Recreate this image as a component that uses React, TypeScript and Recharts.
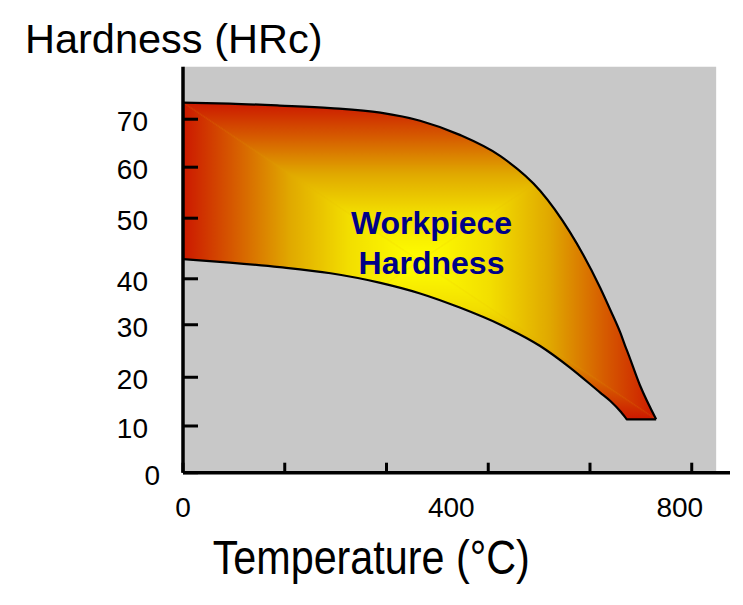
import React from "react";
import { Area, ComposedChart, ReferenceArea, XAxis, YAxis } from "recharts";

// x is measured in axis tick steps (the printed labels 0 / 400 / 800 sit on ticks 0, 3 and 5)
const tempPos = [0, 0.46, 0.95, 1.45, 1.94, 2.33, 2.72, 3.12, 3.51, 3.8, 4.1, 4.2, 4.3, 4.355, 4.36, 4.49, 4.65];
const hardnessHigh = [73.3, 73.1, 72.7, 72.2, 71.3, 69.7, 66.9, 62.7, 55.85, 47.74, 36.63, 32.23, 27.64, 24.61, 24.36, 17.37, 10.57];
const hardnessLow = [42.3, 41.6, 40.7, 39.5, 37.6, 35.5, 32.7, 29.3, 25.09, 20.87, 15.86, 14.2, 12.12, 10.73, 10.57, 10.57, 10.57];

const xTickPos = [0, 1, 2, 3, 4, 5];
const xTickLabels = ["0", "", "", "400", "", "800"];
const yTickPos = [0, 9.25, 18.9, 29.3, 38.4, 50.4, 60.5, 70];
const yTickLabels = ["0", "10", "20", "30", "40", "50", "60", "70"];

const X_MAX = 5.376;
const PLOT_X_END = 5.24;
const Y_MAX = 80.4;

const FONT = '"Liberation Sans", Arial, sans-serif';
const BG = "#c8c8c8";
const NAVY = "#000088";

const data = tempPos.map((pos, i) => ({ pos, range: [hardnessLow[i], hardnessHigh[i]] }));

const X_LABEL_SHIFT: Record<number, number> = { 3: -37, 5: -12 };

function XTick({ x, y, payload }: any) {
  const i = xTickPos.indexOf(payload.value);
  const label = xTickLabels[i];
  if (!label) return null;
  return (
    <text x={x + (X_LABEL_SHIFT[i] ?? 0)} y={y} dy="0.71em" textAnchor="middle" fontSize={28} fontFamily={FONT} fill="#000">
      {label}
    </text>
  );
}

function YTick({ x, y, payload }: any) {
  const i = yTickPos.indexOf(payload.value);
  return (
    <text x={x + (i === 0 ? 12 : 0)} y={y + 2} dy="0.355em" textAnchor="end" fontSize={28} fontFamily={FONT} fill="#000">
      {yTickLabels[i]}
    </text>
  );
}

// edge -> centre colours of the shape's "from centre" fill
const stops = [
  ["0", "#cc1800"],
  ["0.22", "#d65c00"],
  ["0.45", "#e0a800"],
  ["0.7", "#f2de00"],
  ["1", "#ffff00"],
];

function Grad({ id, x1, y1, x2, y2 }: { id: string; x1: number; y1: number; x2: number; y2: number }) {
  return (
    <linearGradient id={id} x1={x1} y1={y1} x2={x2} y2={y2}>
      {stops.map(([o, c]) => (
        <stop key={o} offset={o} stopColor={c} />
      ))}
    </linearGradient>
  );
}

export default function App() {
  return (
    <div style={{ position: "relative", width: 735, height: 597 }}>
      <ComposedChart width={735} height={597} data={data} margin={{ top: 58.7, right: 13, bottom: 72.3, left: 115 }}>
        <defs>
          <Grad id="gL" x1={0} y1={0} x2={1} y2={0} />
          <Grad id="gR" x1={1} y1={0} x2={0} y2={0} />
          <Grad id="gT" x1={0} y1={0} x2={0} y2={1} />
          <Grad id="gB" x1={0} y1={1} x2={0} y2={0} />
          <pattern id="bandFill" patternUnits="objectBoundingBox" patternContentUnits="objectBoundingBox" width="1" height="1">
            <rect width="1" height="1" fill="#e0a800" />
            <polygon points="0,0 0.5,0.5 0,1" fill="url(#gL)" />
            <polygon points="1,0 0.5,0.5 1,1" fill="url(#gR)" />
            <polygon points="0,0 1,0 0.5,0.5" fill="url(#gT)" />
            <polygon points="0,1 1,1 0.5,0.5" fill="url(#gB)" />
          </pattern>
        </defs>
        <ReferenceArea x1={0} x2={PLOT_X_END} y1={0} y2={Y_MAX} fill={BG} fillOpacity={1} stroke="none" ifOverflow="visible" />
        <XAxis
          type="number"
          dataKey="pos"
          domain={[0, X_MAX]}
          ticks={xTickPos}
          allowDataOverflow
          height={60}
          tickSize={-10}
          tickMargin={34}
          tick={<XTick />}
          axisLine={{ stroke: "#000", strokeWidth: 3.5 }}
          tickLine={{ stroke: "#000", strokeWidth: 3 }}
        />
        <YAxis
          type="number"
          domain={[0, Y_MAX]}
          ticks={yTickPos}
          allowDataOverflow
          width={60}
          tickSize={-15}
          tickMargin={50}
          tick={<YTick />}
          axisLine={{ stroke: "#000", strokeWidth: 3.5 }}
          tickLine={{ stroke: "#000", strokeWidth: 3 }}
        />
        <Area
          type="monotone"
          dataKey="range"
          fill="url(#bandFill)"
          fillOpacity={1}
          stroke="#000"
          strokeWidth={2.2}
          dot={false}
          activeDot={false}
          isAnimationActive={false}
        />
      </ComposedChart>
      <svg width={735} height={597} style={{ position: "absolute", left: 0, top: 0, pointerEvents: "none" }}>
        <text x={17} y={44.7} fontSize={41.5} fontFamily={FONT} fill="#000">
          Hardness (HRc)
        </text>
        <text x={204.7} y={566.3} fontSize={48} fontFamily={FONT} fill="#000" textLength={317} lengthAdjust="spacingAndGlyphs">
          Temperature (°C)
        </text>
        <text x={423.5} y={226} textAnchor="middle" fontSize={32} fontWeight="bold" fontFamily={FONT} fill={NAVY}>
          Workpiece
        </text>
        <text x={423.5} y={266.3} textAnchor="middle" fontSize={32} fontWeight="bold" fontFamily={FONT} fill={NAVY}>
          Hardness
        </text>
      </svg>
    </div>
  );
}
